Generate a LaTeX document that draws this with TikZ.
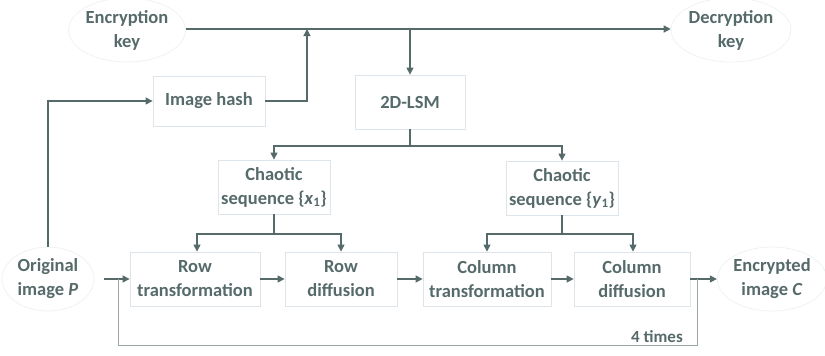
\documentclass[tikz,border=0pt]{standalone}
\usepackage{fontspec}
\setmainfont{Carlito}
\usetikzlibrary{shapes.geometric,arrows.meta}
\definecolor{ink}{HTML}{566A6A}
\definecolor{edge}{HTML}{DDE5EA}
\definecolor{rim}{HTML}{EEF2F4}
\begin{document}
\begin{tikzpicture}[x=1pt,y=-1pt,
  every node/.style={text=ink,font=\fontsize{18.5}{24}\selectfont\bfseries,align=center},
  block/.style={draw=edge,line width=0.8pt,minimum height=54pt,inner sep=2pt},
  blob/.style={ellipse,draw=rim,line width=0.8pt,minimum width=104pt,minimum height=64pt,inner sep=0pt},
  flow/.style={draw=ink,line width=1.3pt,-{Triangle[length=7pt,width=7pt]}},
  plain/.style={draw=ink,line width=1.3pt},
  loop/.style={draw=ink!60,line width=1pt}]
\useasboundingbox (0,0) rectangle (825,356);

% terminal nodes
\node[blob] (enc) at (127,30) {Encryption\\key};
\node[blob] (dec) at (731,30) {Decryption\\key};
\node[blob,minimum width=92pt] (orig) at (48,279) {Original\\image \textit{P}};
\node[blob,minimum width=96pt] (cipher) at (772,279) {Encrypted\\image \textit{C}};

% processing blocks
\node[block,minimum width=112pt,minimum height=50pt] (hash) at (209,101) {Image hash};
\node[block,minimum width=110pt] (lsm) at (410,102) {2D-LSM};
\node[block,minimum width=112pt] (sx) at (274,187) {Chaotic\\sequence \{\textit{x}\textsubscript{1}\}};
\node[block,minimum width=112pt] (sy) at (562,188) {Chaotic\\sequence \{\textit{y}\textsubscript{1}\}};
\node[block,minimum width=130pt] (rt) at (195,279) {Row\\transformation};
\node[block,minimum width=112pt] (rd) at (341,279) {Row\\diffusion};
\node[block,minimum width=128pt] (ct) at (487,279) {Column\\transformation};
\node[block,minimum width=116pt] (cd) at (632,279) {Column\\diffusion};

% junction points
\coordinate (keyjoin) at (307,29);
\coordinate (lsmjoin) at (410,29);
\coordinate (split1) at (410,146);
\coordinate (split2) at (274,234);
\coordinate (split3) at (562,234);
\coordinate (entry) at (104,279);
\coordinate (merge) at (118,279);
\coordinate (exit) at (697,279);
\coordinate (loopR) at (697,345);
\coordinate (loopL) at (118,345);

% key distribution
\draw[flow] (enc.east |- keyjoin) -- (dec.west |- keyjoin);
\draw[flow] (hash.east) -| (keyjoin);
\draw[flow] (lsmjoin) -- (lsm.north);
\draw[flow] (orig.north) |- (hash.west);

% chaotic sequences
\draw[plain] (lsm.south) -- (split1);
\draw[flow] (split1) -| (sx.north);
\draw[flow] (split1) -| (sy.north);
\draw[plain] (sx.south) -- (split2);
\draw[flow] (split2) -| ([xshift=2pt]rt.north);
\draw[flow] (split2) -| (rd.north);
\draw[plain] (sy.south) -- (split3);
\draw[flow] (split3) -| (ct.north);
\draw[flow] (split3) -| ([xshift=1pt]cd.north);

% pipeline
\draw[flow] (entry) -- (rt.west);
\draw[flow] (rt.east) -- (rd.west);
\draw[flow] (rd.east) -- (ct.west);
\draw[flow] (ct.east) -- (cd.west);
\draw[flow] (cd.east) -- (cipher.west);

% four rounds
\draw[loop] (exit) -- (loopR) -- (loopL) -- (merge);
\node[anchor=east,font=\fontsize{17}{20}\selectfont\bfseries,inner sep=1pt] (rounds) at (684,337) {4 times};
\end{tikzpicture}
\end{document}
